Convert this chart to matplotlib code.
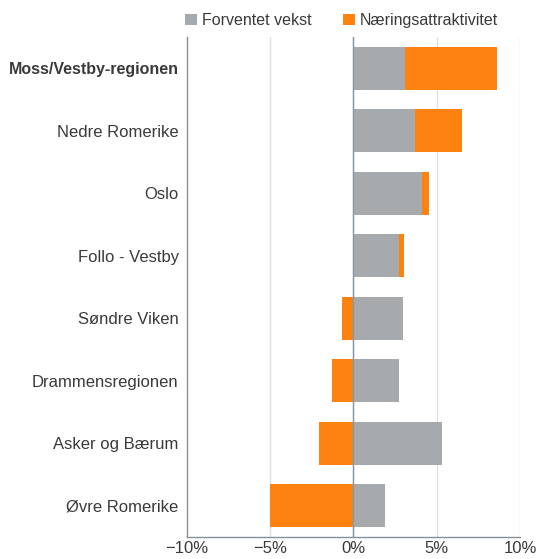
import numpy as np
import matplotlib.pyplot as plt

plt.rcParams['font.family'] = ['Liberation Sans', 'DejaVu Sans']

regions = ["Moss/Vestby-regionen", "Nedre Romerike", "Oslo", "Follo - Vestby",
           "Søndre Viken", "Drammensregionen", "Asker og Bærum", "Øvre Romerike"]
vekst = [3.1, 3.7, 4.1, 2.75, 2.95, 2.75, 5.3, 1.9]
attrakt = [5.5, 2.8, 0.45, 0.3, -0.7, -1.3, -2.05, -5.0]
xticks = [-10, -5, 0, 5, 10]

gray = "#A7AAAD"
orange = "#FD8210"

fig = plt.figure(figsize=(5.38, 5.59), dpi=100)
ax = fig.add_axes([0.3476, 0.0394, 0.6189, 0.8944])

y = np.arange(len(regions))
vekst = np.array(vekst)
attrakt = np.array(attrakt)
left_o = np.where(attrakt > 0, vekst, 0)
ax.barh(y, vekst, height=0.69, color=gray, label="Forventet vekst", zorder=3)
ax.barh(y, attrakt, left=left_o, height=0.69, color=orange,
        label="Næringsattraktivitet", zorder=3)

ax.set_xlim(-10, 10)
ax.set_ylim(len(regions) - 0.5, -0.5)
ax.set_xticks(xticks)
ax.set_xticklabels([f"{v}%".replace("-", "\u2212") for v in xticks])
ax.set_yticks(y)
ax.set_yticklabels(regions)
ax.tick_params(axis='y', length=0, pad=6, labelsize=12, labelcolor="#3A3A3A")
ax.tick_params(axis='x', length=0, pad=3, labelsize=12, labelcolor="#3A3A3A")
for lbl in ax.get_yticklabels():
    if lbl.get_text().startswith("Moss"):
        lbl.set_fontweight("bold")
        lbl.set_fontsize(11.5)

for v in xticks[1:]:
    ax.axvline(v, color="#DCE1E6", lw=1, zorder=1)
ax.axvline(0, color="#8797A6", lw=1, zorder=4)

for s in ["top", "right"]:
    ax.spines[s].set_visible(False)
for s in ["left", "bottom"]:
    ax.spines[s].set_color("#8A8F94")
    ax.spines[s].set_linewidth(1)

ax.legend(loc="lower left", bbox_to_anchor=(-0.025, 1.005), ncol=2, frameon=False,
          fontsize=11.5, handlelength=0.75, handleheight=0.75, handletextpad=0.3,
          columnspacing=2.0, borderaxespad=0, labelcolor="#3A3A3A")

fig.savefig("out.png", dpi=100)
